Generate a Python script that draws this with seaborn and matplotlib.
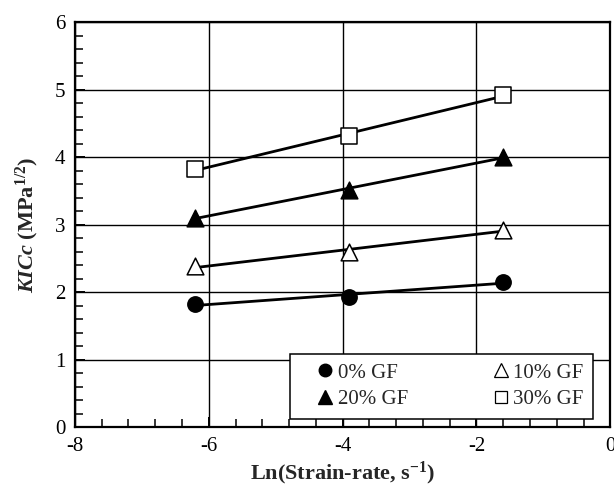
import numpy as np
import matplotlib
matplotlib.use("Agg")
import matplotlib.pyplot as plt
import seaborn as sns
from matplotlib.lines import Line2D
from matplotlib.ticker import MultipleLocator

# data
ln_rate = [-6.2, -3.9, -1.6]
k_0gf = [1.82, 1.93, 2.15]
k_10gf = [2.38, 2.60, 2.92]
k_20gf = [3.10, 3.52, 4.00]
k_30gf = [3.82, 4.32, 4.92]
labels = ["0% GF", "10% GF", "20% GF", "30% GF"]

sns.set_theme(style="ticks")
plt.rcParams['font.family'] = ['Liberation Serif', 'DejaVu Serif']
plt.rcParams['axes.unicode_minus'] = False
plt.rcParams['mathtext.fontset'] = 'custom'
plt.rcParams['mathtext.rm'] = 'Liberation Serif:bold'
plt.rcParams['mathtext.it'] = 'Liberation Serif:italic:bold'
plt.rcParams['mathtext.bf'] = 'Liberation Serif:bold'

fig = plt.figure(figsize=(6.14, 4.92), dpi=100)
ax = fig.add_axes([0.122, 0.132, 0.872, 0.823])

# marker, filled?, size
styles = [("o", True, 11), ("^", False, 12), ("^", True, 12), ("s", False, 11)]
series = [k_0gf, k_10gf, k_20gf, k_30gf]

# points plus least-squares line for each glass fibre content
for ys, (mk, filled, ms) in zip(series, styles):
    sns.regplot(x=np.array(ln_rate), y=np.array(ys), ci=None, ax=ax, marker=mk,
                scatter_kws=dict(s=ms ** 2, facecolors="black" if filled else "white",
                                 edgecolors="black", linewidths=1.1, zorder=4, alpha=1),
                line_kws=dict(color="black", lw=2.0, zorder=3))

ax.set_xlim(-8, 0)
ax.set_ylim(0, 6)
ax.xaxis.set_major_locator(MultipleLocator(2))
ax.xaxis.set_minor_locator(MultipleLocator(0.4))
ax.yaxis.set_major_locator(MultipleLocator(1))
ax.yaxis.set_minor_locator(MultipleLocator(0.2))
ax.grid(True, which="major", color="black", lw=1.0)
ax.tick_params(which="both", direction="in", colors="black", labelsize=15,
               top=False, right=False)
ax.tick_params(which="major", length=7, width=1.4, pad=7)
ax.tick_params(which="minor", length=6, width=1.1)
for sp in ax.spines.values():
    sp.set_color("black")
    sp.set_linewidth(1.6)

ax.set_xlabel(r"Ln(Strain-rate, s$^{\mathbf{-1}}$)", fontsize=16, fontweight="bold", labelpad=3)
ax.set_ylabel(r"$K$$\mathit{ICc}$ (MPa$^{\mathbf{1/2}}$)", fontsize=16, fontweight="bold", labelpad=10)

handles = [
    Line2D([], [], ls="none", marker="o", ms=9, mfc="black", mec="black"),
    Line2D([], [], ls="none", marker="^", ms=9.5, mfc="black", mec="black"),
    Line2D([], [], ls="none", marker="^", ms=9.5, mfc="white", mec="black", mew=0.9),
    Line2D([], [], ls="none", marker="s", ms=8, mfc="white", mec="black", mew=0.9),
]
leg = ax.legend(handles, [labels[0], labels[2], labels[1], labels[3]], ncol=2,
                loc="lower right", bbox_to_anchor=(0.975, 0.01), fontsize=15,
                frameon=True, fancybox=False, framealpha=1, edgecolor="black",
                handlelength=2.5, handletextpad=-0.65, columnspacing=3.2,
                labelspacing=0.35, borderpad=0.45, borderaxespad=0.2)
leg.get_frame().set_linewidth(1.1)

fig.savefig("out.png", dpi=100)
